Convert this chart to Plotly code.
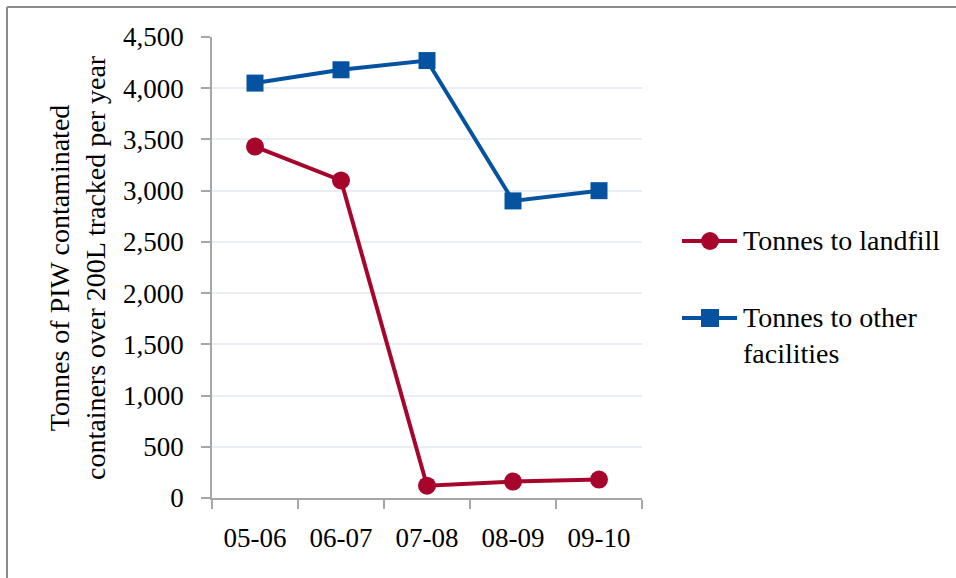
import plotly.graph_objects as go

# Financial years tracked
years = ["05-06", "06-07", "07-08", "08-09", "09-10"]

# Tonnes of PIW contaminated containers (over 200L) per destination
landfill = [3430, 3100, 120, 160, 180]
other_facilities = [4050, 4180, 4270, 2900, 3000]

series_names = ["Tonnes to landfill", "Tonnes to other<br>facilities"]
y_title = "Tonnes of PIW contaminated<br>containers over 200L tracked per year"

RED = "#A6062B"
BLUE = "#0452A0"
FONT = "Liberation Serif"
FS = 27
FS_TEXT = 28
AXIS_GREY = "#A6A6A6"

W, H = 956, 578
L, R, T, B = 212, 314, 37, 80
PW, PH = W - L - R, H - T - B


def px_x(x):
    return (x - L) / PW


def px_y(y):
    return (H - B - y) / PH


fig = go.Figure()
fig.add_trace(go.Scatter(
    x=years, y=landfill, name="Tonnes to landfill", mode="lines+markers",
    line=dict(color=RED, width=4),
    marker=dict(symbol="circle", size=18, color=RED),
    showlegend=False,
))
fig.add_trace(go.Scatter(
    x=years, y=other_facilities, name="Tonnes to other facilities", mode="lines+markers",
    line=dict(color=BLUE, width=4),
    marker=dict(symbol="square", size=17, color=BLUE),
    showlegend=False,
))

shapes = []
annotations = []

# Outer frame (top and left edges)
shapes.append(dict(type="line", xref="paper", yref="paper",
                   x0=px_x(7), x1=px_x(W + 5), y0=px_y(7), y1=px_y(7),
                   line=dict(color="#8C8C8C", width=2)))
shapes.append(dict(type="line", xref="paper", yref="paper",
                   x0=px_x(7), x1=px_x(7), y0=px_y(7), y1=px_y(H + 5),
                   line=dict(color="#8C8C8C", width=2)))

# Legend drawn beside the plot
legend_rows = [(241, RED, "circle", series_names[0]), (318, BLUE, "square", series_names[1])]
for yy, col, sym, label in legend_rows:
    shapes.append(dict(type="line", xref="paper", yref="paper",
                       x0=px_x(682), x1=px_x(737), y0=px_y(yy), y1=px_y(yy),
                       line=dict(color=col, width=4)))
    r = 9
    shapes.append(dict(type=sym if sym == "circle" else "rect", xref="paper", yref="paper",
                       x0=px_x(710 - r), x1=px_x(710 + r), y0=px_y(yy - r), y1=px_y(yy + r),
                       fillcolor=col, line=dict(width=0)))
    annotations.append(dict(xref="paper", yref="paper", x=px_x(741), y=px_y(yy - 18),
                            xanchor="left", yanchor="top", text=label, showarrow=False,
                            align="left", font=dict(family=FONT, size=FS_TEXT, color="#000000")))

# Y axis title
annotations.append(dict(xref="paper", yref="paper", x=px_x(77), y=px_y(268),
                        xanchor="center", yanchor="middle", text=y_title, textangle=-90,
                        showarrow=False, font=dict(family=FONT, size=FS_TEXT, color="#000000")))

fig.update_layout(
    width=W, height=H,
    margin=dict(l=L, r=R, t=T, b=B),
    paper_bgcolor="white", plot_bgcolor="white",
    font=dict(family=FONT, size=FS, color="#000000"),
    shapes=shapes, annotations=annotations,
    showlegend=False,
)
fig.update_xaxes(
    type="category", range=[-0.5, 4.5],
    showline=True, linecolor=AXIS_GREY, linewidth=1.5,
    ticks="outside", tickson="boundaries", ticklen=9, tickcolor=AXIS_GREY, tickwidth=1.5,
    showgrid=False, ticklabelstandoff=15,
    tickfont=dict(family=FONT, size=FS, color="#000000"),
)
fig.update_yaxes(
    range=[0, 4500], dtick=500, tickformat=",",
    showline=True, linecolor=AXIS_GREY, linewidth=1.5,
    ticks="outside", ticklen=9, tickcolor=AXIS_GREY, tickwidth=1.5,
    showgrid=True, gridcolor="#E9EEF5", gridwidth=1.5, zeroline=False,
    ticklabelstandoff=12,
    tickfont=dict(family=FONT, size=FS, color="#000000"),
)

fig.write_html("out.html")
